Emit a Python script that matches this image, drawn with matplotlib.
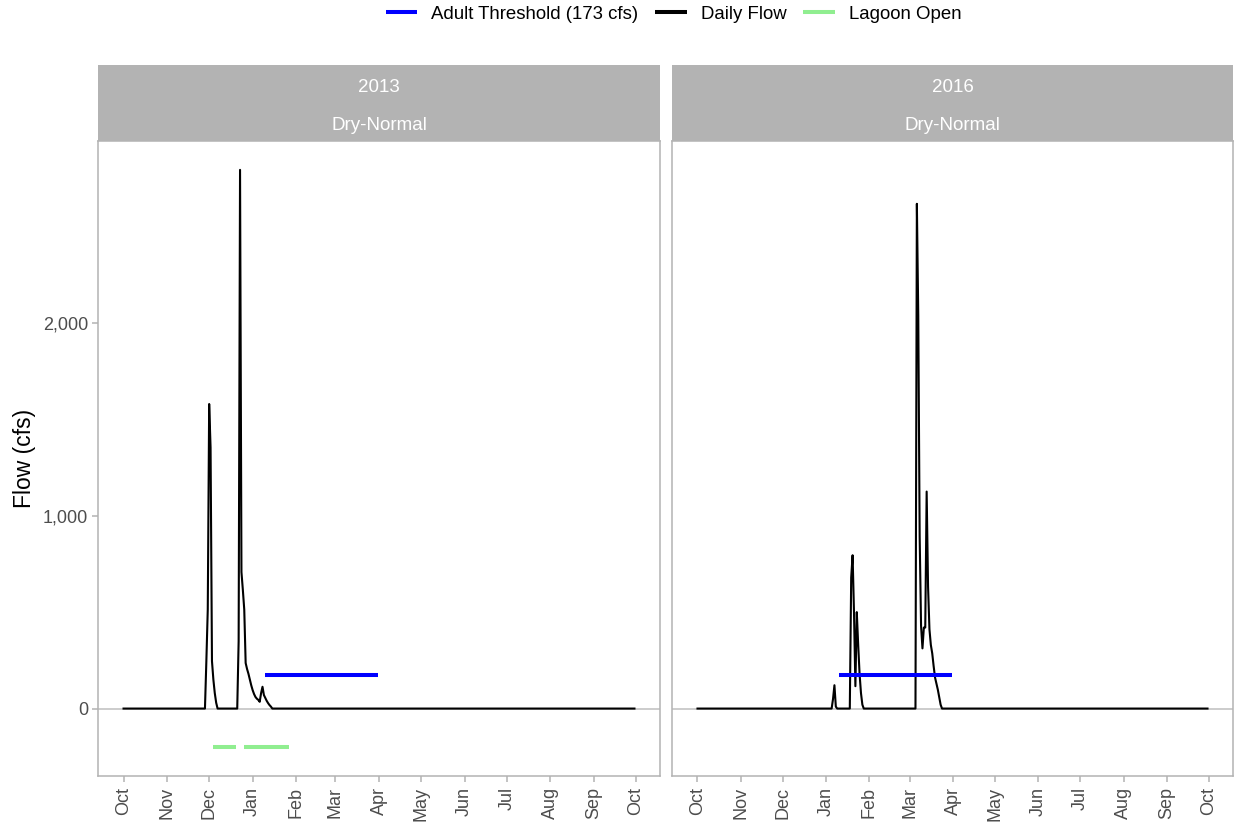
import numpy as np
import pandas as pd
import matplotlib
matplotlib.use("Agg")
import matplotlib.pyplot as plt
import matplotlib.dates as mdates
from matplotlib.lines import Line2D

plt.rcParams['font.family'] = ['Liberation Sans', 'DejaVu Sans']

# water years shown in the two panels
years = [2013, 2016]
year_types = ["Dry-Normal", "Dry-Normal"]
wy_start = ["2012-10-01", "2015-10-01"]
wy_end = ["2013-09-30", "2016-09-30"]

# daily flow (cfs); every day not listed here is 0
storm_2013_a_start = "2012-11-29"
storm_2013_a = [246, 513, 1579, 1354, 246, 150, 80, 30]
storm_2013_b_start = "2012-12-22"
storm_2013_b = [349, 2793, 708, 615, 513, 236, 205, 180, 150, 120, 95, 75, 60,
                51, 45, 35, 80, 113, 70, 55, 40, 28, 18, 10]

storm_2016_a_start = "2016-01-06"
storm_2016_a = [50, 121, 10]
storm_2016_b_start = "2016-01-19"
storm_2016_b = [679, 795, 500, 116, 500, 330, 179, 80, 20]
storm_2016_c_start = "2016-03-06"
storm_2016_c = [2617, 2036, 893, 429, 312, 420, 420, 1125, 634, 411, 330, 286,
                220, 161, 130, 98, 60, 20]

storms = [
    [(storm_2013_a_start, storm_2013_a), (storm_2013_b_start, storm_2013_b)],
    [(storm_2016_a_start, storm_2016_a), (storm_2016_b_start, storm_2016_b),
     (storm_2016_c_start, storm_2016_c)],
]

# adult migration threshold window
threshold_cfs = 173
threshold_start = ["2013-01-10", "2016-01-10"]
threshold_end = ["2013-03-31", "2016-03-31"]

# lagoon open periods (drawn below zero)
lagoon_level = -200
lagoon_start = [["2012-12-04", "2012-12-26"], []]
lagoon_end = [["2012-12-20", "2013-01-27"], []]

BORDER = "#B3B3B3"
TEXT = "#4D4D4D"


def daily_series(start, end, events):
    days = pd.date_range(start, end, freq="D")
    flow = pd.Series(0.0, index=days)
    for ev_start, values in events:
        idx = pd.date_range(ev_start, periods=len(values), freq="D")
        flow.loc[idx] = values
    return flow


fig = plt.figure(figsize=(12.36, 8.23), dpi=100)
W, H = 1236, 823
panel_px = [(98, 660), (672, 1233)]
top_px, bot_px, strip_top_px = 141, 776, 65

all_vals = [lagoon_level] + [v for ev in storms for _, vals in ev for v in vals]
ymin, ymax = min(all_vals), max(all_vals)
pad = 0.05 * (ymax - ymin)

axes = []
for i, (x0, x1) in enumerate(panel_px):
    ax = fig.add_axes([x0 / W, (H - bot_px) / H, (x1 - x0) / W, (bot_px - top_px) / H])
    axes.append(ax)
    flow = daily_series(wy_start[i], wy_end[i], storms[i])

    ax.axhline(0, color="#BEBEBE", lw=1.1, zorder=1)
    ax.plot(flow.index, flow.values, color="black", lw=1.5, zorder=3)
    ax.plot([pd.Timestamp(threshold_start[i]), pd.Timestamp(threshold_end[i])],
            [threshold_cfs, threshold_cfs], color="#0000FF", lw=2.9,
            solid_capstyle="butt", zorder=4)
    for s, e in zip(lagoon_start[i], lagoon_end[i]):
        ax.plot([pd.Timestamp(s), pd.Timestamp(e)], [lagoon_level, lagoon_level],
                color="#90EE90", lw=2.9, solid_capstyle="butt", zorder=4)

    t0, t1 = pd.Timestamp(wy_start[i]), pd.Timestamp(wy_end[i])
    span = t1 - t0
    ax.set_xlim(t0 - 0.05 * span, t1 + 0.05 * span)
    ax.set_ylim(ymin - pad, ymax + pad)

    ax.xaxis.set_major_locator(mdates.MonthLocator())
    ax.xaxis.set_major_formatter(mdates.DateFormatter("%b"))
    ax.set_yticks([0, 1000, 2000])
    ax.yaxis.set_major_formatter(matplotlib.ticker.FuncFormatter(lambda v, p: f"{v:,.0f}"))
    ax.tick_params(axis="both", colors=BORDER, labelcolor=TEXT, labelsize=13,
                   length=4, width=1.1)
    ax.tick_params(axis="x", labelrotation=90, pad=4)
    ax.tick_params(axis="y", pad=3)
    if i > 0:
        ax.tick_params(axis="y", labelleft=False, length=0)
    for sp in ax.spines.values():
        sp.set_color(BORDER)
        sp.set_linewidth(1.1)

    # facet strip
    sax = fig.add_axes([x0 / W, (H - top_px) / H, (x1 - x0) / W, (top_px - strip_top_px) / H])
    sax.set_facecolor(BORDER)
    sax.set_xticks([])
    sax.set_yticks([])
    for sp in sax.spines.values():
        sp.set_visible(False)
    sax.text(0.5, 0.71, str(years[i]), color="white", fontsize=13.5,
             ha="center", va="center", transform=sax.transAxes)
    sax.text(0.5, 0.21, year_types[i], color="white", fontsize=13.5,
             ha="center", va="center", transform=sax.transAxes)

axes[0].set_ylabel("Flow (cfs)", fontsize=16.5, labelpad=5)

handles = [Line2D([], [], color="#0000FF", lw=2.9, solid_capstyle="butt"),
           Line2D([], [], color="black", lw=2.9, solid_capstyle="butt"),
           Line2D([], [], color="#90EE90", lw=2.9, solid_capstyle="butt")]
labels = ["Adult Threshold (173 cfs)", "Daily Flow", "Lagoon Open"]
fig.legend(handles, labels, loc="center", bbox_to_anchor=(0.545, 1 - 14 / H), ncol=3,
           frameon=False, fontsize=13.4, handlelength=1.7, handletextpad=0.75,
           columnspacing=0.9)

fig.savefig("out.png", dpi=100)
